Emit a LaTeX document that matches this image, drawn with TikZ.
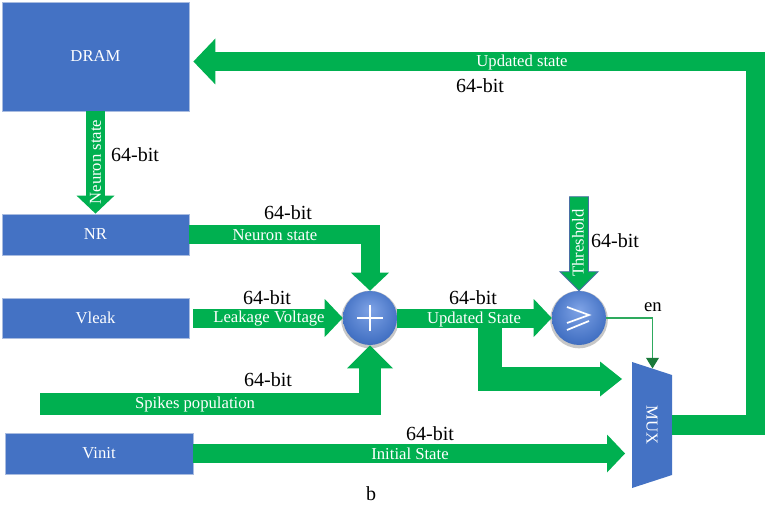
\documentclass[tikz,border=0pt]{standalone}
\usepackage{fontspec}
\setmainfont{Liberation Serif}
\usetikzlibrary{arrows.meta,calc}
\definecolor{blk}{HTML}{4472C4}
\definecolor{grn}{HTML}{00B050}
\definecolor{edg}{HTML}{A9BCE0}
\definecolor{thr}{HTML}{4A6FA5}
\definecolor{enl}{HTML}{2EAA5E}
\definecolor{endk}{HTML}{1B7A3A}
\definecolor{ballA}{HTML}{7FA3E6}
\definecolor{ballB}{HTML}{2F569C}
\definecolor{ballC}{HTML}{1F3C75}
\pgfdeclareradialshading{myball}{\pgfpoint{0bp}{8bp}}{color(0bp)=(ballA); color(26bp)=(blk); color(40bp)=(ballB); color(47bp)=(ballC); color(50bp)=(ballC)}
\begin{document}
\begin{tikzpicture}[x=0.75pt,y=-0.75pt,
  blockst/.style={draw=edg, line width=0.6pt, fill=blk, text=white, font=\fontsize{12.5}{14}\selectfont, inner sep=0pt},
  wlab/.style={text=white, font=\fontsize{12.5}{14}\selectfont, inner sep=0pt},
  blab/.style={text=black, font=\fontsize{15}{17}\selectfont, inner sep=0pt},
  opball/.style={circle, minimum size=40.5pt, inner sep=0pt, shading=myball},
  fatA/.style={draw=grn, line width=14.25pt, line join=miter, line cap=butt, -{Triangle[length=13.5pt, width=28.5pt, line width=0pt, color=grn]}},
  fatS/.style={draw=grn, line width=16.5pt, line join=miter, line cap=butt, -{Triangle[length=17.25pt, width=34.5pt, line width=0pt, color=grn]}},
  fatB/.style={draw=grn, line width=18pt, line join=miter, line cap=butt, -{Triangle[length=16.5pt, width=26.25pt, line width=0pt, color=grn]}},
  fatD/.style={draw=grn, line width=14.6pt, line join=miter, line cap=butt, -{Triangle[length=16.5pt, width=34.5pt, line width=0pt, color=grn]}},
  enline/.style={draw=enl, line width=1.1pt, -{Triangle[length=8pt, width=9.5pt, color=endk]}}
]
\useasboundingbox (0,0) rectangle (768,517);
\fill[white] (0,0) rectangle (768,517);

% blocks
\node[blockst, minimum width=140.25pt, minimum height=81.75pt] (dram) at (95.5,56.5) {DRAM};
\node[blockst, minimum width=140.25pt, minimum height=30.75pt] (nr) at (95.5,234.5) {NR};
\node[blockst, minimum width=140.25pt, minimum height=30pt] (vleak) at (95.5,318) {Vleak};
\node[blockst, minimum width=141pt, minimum height=30.75pt] (vinit) at (99,453.5) {Vinit};

% operator balls
\fill[black!22] (370,319.5) circle[radius=21.6pt];
\fill[black!22] (579,319.5) circle[radius=21.6pt];
\node[opball] (adder) at (370,318) {};
\node[opball] (cmp) at (579,318) {};
\draw[white, line width=1.3pt] ($(adder.center)+(-13,0)$) -- ($(adder.center)+(13,0)$);
\draw[white, line width=1.3pt] ($(adder.center)+(0,-13)$) -- ($(adder.center)+(0,13)$);
\draw[white, line width=1.3pt, line join=miter] ($(cmp.center)+(-12,-11)$) -- ($(cmp.center)+(10,-3)$) -- ($(cmp.center)+(-12,5)$);
\draw[white, line width=1.3pt] ($(cmp.center)+(-12,12)$) -- ($(cmp.center)+(10,3)$);

% MUX
\coordinate (mnw) at (632,362);
\coordinate (mne) at (672,375);
\coordinate (mse) at (672,475);
\coordinate (msw) at (632,488);
\fill[blk] (mnw) -- (mne) -- (mse) -- (msw) -- cycle;
\node[wlab, rotate=-90] (mux) at (652,425) {MUX};
\coordinate (mxa) at (632,379);
\coordinate (mxb) at (632,453.5);
\coordinate (mxo) at (672,425);
\coordinate (men) at (652.5,368.5);

% connectors
\draw[fatA] (dram.south) -- (nr.north);
\node[wlab, rotate=90] (l1) at (95.5,162) {Neuron state};
\node[blab] (b1) at (135,155) {64-bit};

\draw[fatA] (nr.east) -| (adder.north);
\node[wlab] (l2) at (275,235) {Neuron state};
\node[blab] (b2) at (288,213) {64-bit};

\draw[fatA, shorten <=3pt] (vleak.east) -- (adder.west);
\node[wlab] (l3) at (269,319) {Leakage Voltage};
\node[blab] (b3) at (267,298) {64-bit};

\coordinate (spk) at (40,404);
\draw[fatS] (spk) -| (adder.south);
\node[wlab] (l4) at (195,404) {Spikes population};
\node[blab] (b4) at (268,380) {64-bit};

\draw[fatA, shorten >=5.25pt] (vinit.east) -- (mxb);
\node[wlab] (l5) at (410,454) {Initial State};
\node[blab] (b5) at (430,434) {64-bit};

\coordinate (brs) at (490,318);
\draw[fatB, shorten >=7.5pt] (brs) |- (mxa);

\draw[fatA] (adder.east) -- (cmp.west);
\node[wlab] (l6) at (474,319) {Updated State};
\node[blab] (b6) at (473,298) {64-bit};

\draw[fill=grn, draw=thr, line width=0.7pt] (cmp.north) -- ++(19,-19) -- ++(-9.5,0) -- ++(0,-75) -- ++(-19,0) -- ++(0,75) -- ++(-9.5,0) -- cycle;
\node[wlab, rotate=90] (l7) at (578,243) {Threshold};
\node[blab] (b7) at (615,241) {64-bit};

\draw[enline] (cmp.east) -| (men);
\node[text=black, font=\fontsize{14}{16}\selectfont, inner sep=0pt] (en) at (653,307) {en};

\coordinate (din) at ($(dram.east)+(0,5)$);
\draw[fatD, shorten >=3pt] (mxo) -- ++(83.5,0) |- (din);
\node[wlab] (l8) at (522,62) {Updated state};
\node[blab] (b8) at (480,86) {64-bit};

\node[blab] (cap) at (371,494) {b};
\end{tikzpicture}
\end{document}
